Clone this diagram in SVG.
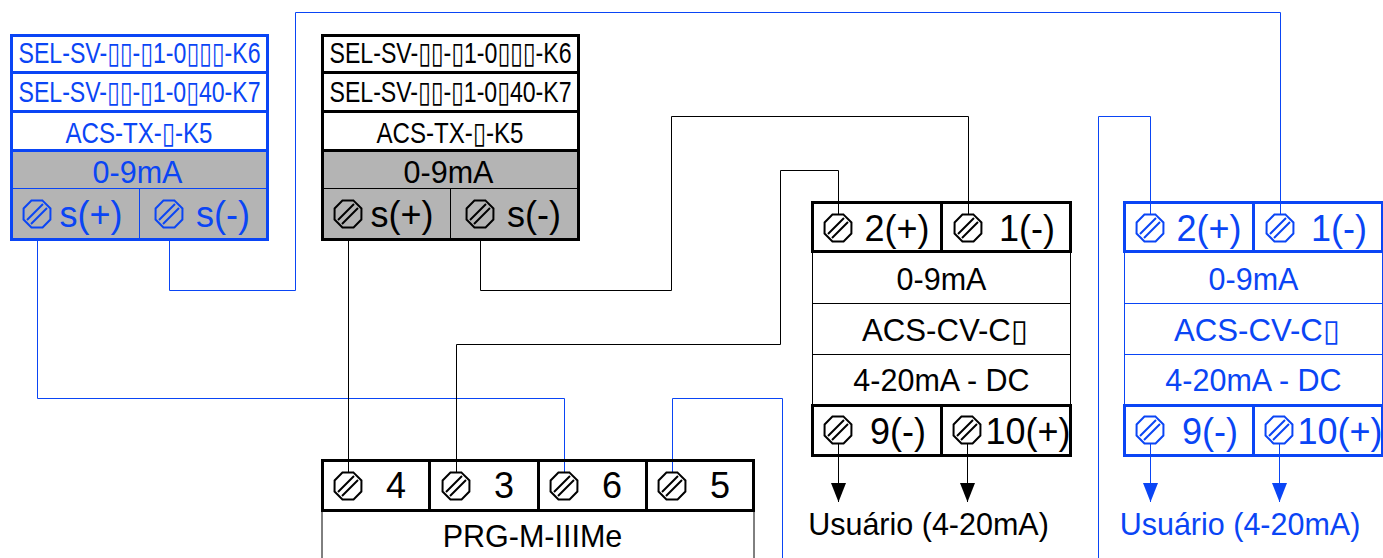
<svg xmlns="http://www.w3.org/2000/svg" width="1383" height="558" viewBox="0 0 1383 558">
<style>
text{font-family:"Liberation Sans","DejaVu Sans",Arial,sans-serif;text-anchor:middle}
.box{fill:none;stroke-width:3}
.thin{fill:none;stroke-width:1}
.wire{fill:none;stroke-width:1}
.ko{stroke:#000}.bo{stroke:#0a45f5}
.kt{fill:#000}.bt{fill:#0a45f5}
.s24{font-size:30px}.s30{font-size:36px}.s29{font-size:30.500px}
.screw{fill:none;stroke-width:2}
.gray{fill:#b4b4b4;stroke:none}
</style>
<defs>
<g id="screw">
<polygon points="0,-14.500 10.300,-10.300 14.500,0 10.300,10.300 0,14.500 -10.300,10.300 -14.500,0 -10.300,-10.300" transform="rotate(22.500)" fill="none"/>
<path d="M-10,6L6,-10M-6,10L10,-6" fill="none"/>
</g>
<marker id="ak" markerUnits="userSpaceOnUse" markerWidth="20" markerHeight="16" refX="19" refY="7.5" orient="auto"><path d="M0,0L19,7.5L0,15Z" fill="#000"/></marker>
<marker id="ab" markerUnits="userSpaceOnUse" markerWidth="20" markerHeight="16" refX="19" refY="7.5" orient="auto"><path d="M0,0L19,7.5L0,15Z" fill="#0a45f5"/></marker>
</defs>
<rect width="1383" height="558" fill="#fff"/>

<g id="connectors">
<path class="wire bo" d="M37.500 214V398.500H564.500V472"/>
<path class="wire bo" d="M169.500 228V290.500H295.500V12.500H1280.500V214"/>
<path class="wire bo" d="M1150.500 214V116.500H1098.500V558"/>
<path class="wire bo" d="M672.500 472V398.500H782.500V558"/>
<path class="wire ko" d="M348.500 228V472"/>
<path class="wire ko" d="M480.500 228V290.500H671.500V116.500H968.500V214"/>
<path class="wire ko" d="M838.500 214V170.500H780.500V344.500H456.500V472"/>
<path class="wire ko" d="M838.500 444V502" marker-end="url(#ak)"/>
<path class="wire ko" d="M967.500 444V502" marker-end="url(#ak)"/>
<path class="wire bo" d="M1150.500 444V502" marker-end="url(#ab)"/>
<path class="wire bo" d="M1279.500 444V502" marker-end="url(#ab)"/>
</g>

<g id="node-tx-blue">
<rect class="gray" x="11" y="150" width="256" height="89"/>
<rect class="box bo" x="11.500" y="35.500" width="256" height="204"/>
<path class="box bo" d="M10 72.500H268M10 111.500H268M10 150.500H268"/>
<path class="thin bo" d="M11 188.500H267M139.500 188V239"/>
<text class="bt s24" x="139.500" y="63" textLength="242" lengthAdjust="spacingAndGlyphs">SEL-SV-▯▯-▯1-0▯▯▯-K6</text>
<text class="bt s24" x="139.500" y="102" textLength="242" lengthAdjust="spacingAndGlyphs">SEL-SV-▯▯-▯1-0▯40-K7</text>
<text class="bt s24" x="139" y="143" textLength="147" lengthAdjust="spacingAndGlyphs">ACS-TX-▯-K5</text>
<text class="bt s29" x="137.500" y="183">0-9mA</text>
<text class="bt s30" x="91" y="227">s(+)</text>
<text class="bt s30" x="223" y="227">s(-)</text>
<use href="#screw" x="37" y="214" class="screw bo"/>
<use href="#screw" x="169" y="214" class="screw bo"/>
</g>

<g id="node-tx-black">
<rect class="gray" x="322" y="150" width="256" height="89"/>
<rect class="box ko" x="322.500" y="35.500" width="256" height="204"/>
<path class="box ko" d="M321 72.500H579M321 111.500H579M321 150.500H579"/>
<path class="thin ko" d="M322 188.500H578M450.500 188V239"/>
<text class="kt s24" x="450.500" y="63" textLength="242" lengthAdjust="spacingAndGlyphs">SEL-SV-▯▯-▯1-0▯▯▯-K6</text>
<text class="kt s24" x="450.500" y="102" textLength="242" lengthAdjust="spacingAndGlyphs">SEL-SV-▯▯-▯1-0▯40-K7</text>
<text class="kt s24" x="450" y="143" textLength="147" lengthAdjust="spacingAndGlyphs">ACS-TX-▯-K5</text>
<text class="kt s29" x="448.500" y="183">0-9mA</text>
<text class="kt s30" x="402" y="227">s(+)</text>
<text class="kt s30" x="534" y="227">s(-)</text>
<use href="#screw" x="348" y="214" class="screw ko"/>
<use href="#screw" x="480" y="214" class="screw ko"/>
</g>

<g id="node-cv-black">
<path class="thin ko" d="M812.500 252V404M1070.500 252V404M812 303.500H1070M812 354.500H1070"/>
<rect class="box ko" x="812.500" y="202.500" width="258" height="49"/>
<rect class="box ko" x="812.500" y="405.500" width="258" height="50"/>
<path class="box ko" d="M941.500 202V252M941.500 405V456"/>
<text class="kt s29" x="941.500" y="290">0-9mA</text>
<text class="kt s29" x="945" y="341" textLength="166" lengthAdjust="spacingAndGlyphs">ACS-CV-C▯</text>
<text class="kt s29" x="941.500" y="391">4-20mA - DC</text>
<text class="kt s30" x="897" y="241">2(+)</text>
<text class="kt s30" x="1027" y="241">1(-)</text>
<text class="kt s30" x="898" y="444">9(-)</text>
<text class="kt s30" x="1028" y="444">10(+)</text>
<use href="#screw" x="838" y="228" class="screw ko"/>
<use href="#screw" x="968" y="228" class="screw ko"/>
<use href="#screw" x="838" y="430" class="screw ko"/>
<use href="#screw" x="967" y="430" class="screw ko"/>
<text class="kt s29" x="928.500" y="535">Usuário (4-20mA)</text>
</g>

<g id="node-cv-blue">
<path class="thin bo" d="M1124.500 252V404M1382.500 252V404M1124 303.500H1382M1124 354.500H1382"/>
<rect class="box bo" x="1124.500" y="202.500" width="258" height="49"/>
<rect class="box bo" x="1124.500" y="405.500" width="258" height="50"/>
<path class="box bo" d="M1253.500 202V252M1253.500 405V456"/>
<text class="bt s29" x="1253.500" y="290">0-9mA</text>
<text class="bt s29" x="1257" y="341" textLength="166" lengthAdjust="spacingAndGlyphs">ACS-CV-C▯</text>
<text class="bt s29" x="1253.500" y="391">4-20mA - DC</text>
<text class="bt s30" x="1209" y="241">2(+)</text>
<text class="bt s30" x="1339" y="241">1(-)</text>
<text class="bt s30" x="1210" y="444">9(-)</text>
<text class="bt s30" x="1340" y="444">10(+)</text>
<use href="#screw" x="1150" y="228" class="screw bo"/>
<use href="#screw" x="1280" y="228" class="screw bo"/>
<use href="#screw" x="1150" y="430" class="screw bo"/>
<use href="#screw" x="1279" y="430" class="screw bo"/>
<text class="bt s29" x="1240" y="535">Usuário (4-20mA)</text>
</g>

<g id="node-prg">
<path class="thin ko" d="M322 511V558M754 511V558"/>
<rect class="box ko" x="322.500" y="460.500" width="431" height="50"/>
<path class="box ko" d="M429.500 460V511M538.500 460V511M646.500 460V511"/>
<text class="kt s30" x="396" y="498">4</text>
<text class="kt s30" x="504" y="498">3</text>
<text class="kt s30" x="612" y="498">6</text>
<text class="kt s30" x="720" y="498">5</text>
<text class="kt s29" x="532.500" y="547">PRG-M-IIIMe</text>
<use href="#screw" x="348" y="486" class="screw ko"/>
<use href="#screw" x="456" y="486" class="screw ko"/>
<use href="#screw" x="564" y="486" class="screw ko"/>
<use href="#screw" x="672" y="486" class="screw ko"/>
</g>
</svg>
